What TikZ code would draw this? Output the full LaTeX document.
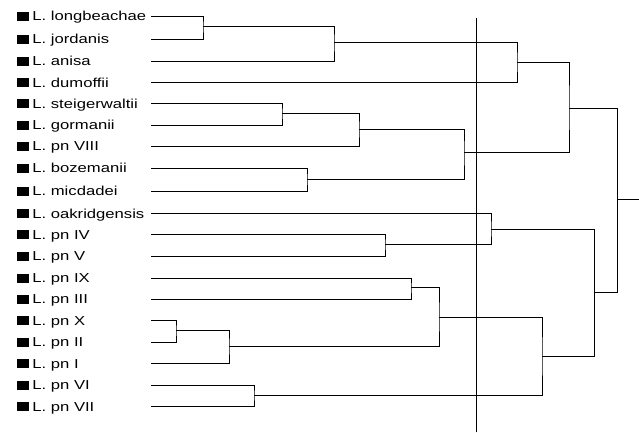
\documentclass[tikz,border=0pt]{standalone}
\usepackage{fontspec}
\newfontfamily\taxonfont[FakeStretch=1.28]{Liberation Sans}
\newcommand{\taxon}[1]{\rule{12pt}{9pt}\hspace{3pt}L.\ #1}

\begin{document}
\begin{tikzpicture}[
            x = 1pt, y = -1pt, % pixel units, y grows downwards
            line width = 0.8pt, % line style
            line cap = rect
        ]

        \tikzstyle{leaf}=[
            anchor = west,
            inner sep = 0pt,
            text height = 9pt,
            text depth = 0pt,
            font = \taxonfont\fontsize{13pt}{15pt}\selectfont
        ]

        \useasboundingbox (0,0) rectangle (639,432);

        % taxa
        \node[leaf] (lon) at (17,16) {\taxon{longbeachae}};
        \node[leaf] (jor) at (17,39) {\taxon{jordanis}};
        \node[leaf] (ani) at (17,61) {\taxon{anisa}};
        \node[leaf] (dum) at (17,82.5) {\taxon{dumoffii}};
        \node[leaf] (ste) at (17,103.5) {\taxon{steigerwaltii}};
        \node[leaf] (gor) at (17,125) {\taxon{gormanii}};
        \node[leaf] (pn8) at (17,146) {\taxon{pn VIII}};
        \node[leaf] (boz) at (17,168) {\taxon{bozemanii}};
        \node[leaf] (mic) at (17,191) {\taxon{micdadei}};
        \node[leaf] (oak) at (17,213.5) {\taxon{oakridgensis}};
        \node[leaf] (pn4) at (17,234.5) {\taxon{pn IV}};
        \node[leaf] (pn5) at (17,256) {\taxon{pn V}};
        \node[leaf] (pn9) at (17,278) {\taxon{pn IX}};
        \node[leaf] (pn3) at (17,299) {\taxon{pn III}};
        \node[leaf] (pnx) at (17,320.5) {\taxon{pn X}};
        \node[leaf] (pn2) at (17,342) {\taxon{pn II}};
        \node[leaf] (pn1) at (17,363.5) {\taxon{pn I}};
        \node[leaf] (pn6) at (17,385) {\taxon{pn VI}};
        \node[leaf] (pn7) at (17,406.5) {\taxon{pn VII}};

        % branch points
        \coordinate (tip) at (151,0);
        \coordinate (m1) at (203,26);
        \coordinate (m2) at (334,42);
        \coordinate (m3) at (517,62);
        \coordinate (m4) at (282,113);
        \coordinate (m5) at (359,129);
        \coordinate (m6) at (307,179);
        \coordinate (m7) at (464,152);
        \coordinate (m8) at (569,108);
        \coordinate (m9) at (385,244);
        \coordinate (m10) at (491,229);
        \coordinate (m11) at (411,287);
        \coordinate (m12) at (176,330);
        \coordinate (m13) at (229,346);
        \coordinate (m14) at (439,317);
        \coordinate (m15) at (254,395);
        \coordinate (m16) at (542,356);
        \coordinate (m17) at (594,292);
        \coordinate (m18) at (617,199);
        \coordinate (root) at (639,199);
        \coordinate (cut-top) at (476,18);
        \coordinate (cut-bot) at (476,432);

        \draw (lon -| tip) -| (m1) |- (jor -| tip);
        \draw (m1) -| (m2) |- (ani -| tip);
        \draw (m2) -| (m3) |- (dum -| tip);
        \draw (ste -| tip) -| (m4) |- (gor -| tip);
        \draw (m4) -| (m5) |- (pn8 -| tip);
        \draw (boz -| tip) -| (m6) |- (mic -| tip);
        \draw (m5) -| (m7) |- (m6);
        \draw (m3) -| (m8) |- (m7);
        \draw (pn4 -| tip) -| (m9) |- (pn5 -| tip);
        \draw (oak -| tip) -| (m10) |- (m9);
        \draw (pn9 -| tip) -| (m11) |- (pn3 -| tip);
        \draw (pnx -| tip) -| (m12) |- (pn2 -| tip);
        \draw (m12) -| (m13) |- (pn1 -| tip);
        \draw (m11) -| (m14) |- (m13);
        \draw (pn6 -| tip) -| (m15) |- (pn7 -| tip);
        \draw (m14) -| (m16) |- (m15);
        \draw (m10) -| (m17) |- (m16);
        \draw (m8) -| (m18) |- (m17);
        \draw (m18) -- (root);

        % cut-off line
        \draw (cut-top) -- (cut-bot);

    \end{tikzpicture}
\end{document}
